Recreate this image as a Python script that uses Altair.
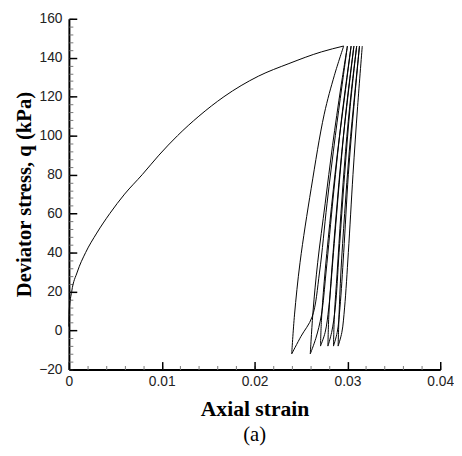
import altair as alt
import pandas as pd

# Monotonic loading curve (axial strain, deviator stress q in kPa)
loading_strain = [0.0, 0.00003, 0.0003, 0.0009, 0.0018, 0.0030, 0.0044, 0.0060, 0.0079,
                  0.0097, 0.0117, 0.0140, 0.0167, 0.0204, 0.0237, 0.0272, 0.0296]
loading_q = [2, 10, 20, 30, 40, 50, 60, 70, 80, 90, 100, 110, 120, 130.5, 137, 143, 146]

# Unloading branches (from peak down to minimum), one list per cycle
unload_strain = [
    [0.0296, 0.0286, 0.0275, 0.0261, 0.0249, 0.0243, 0.0240],
    [0.0300, 0.0293, 0.0284, 0.0276, 0.0268, 0.0263, 0.0260],
    [0.0304, 0.0297, 0.0289, 0.0281, 0.0275, 0.0272, 0.0271],
    [0.0307, 0.0301, 0.0294, 0.0288, 0.0283, 0.0280, 0.0279],
    [0.0310, 0.0304, 0.0298, 0.0293, 0.0289, 0.0286, 0.0285],
    [0.0313, 0.0308, 0.0302, 0.0297, 0.0293, 0.0291, 0.0290],
]
unload_q = [
    [146, 131, 111, 73, 35, 8, -12],
    [146, 125, 95, 65, 35, 10, -12],
    [146, 120, 90, 55, 25, 5, -8],
    [146, 122, 92, 60, 30, 8, -8],
    [146, 122, 92, 60, 30, 8, -8],
    [146, 122, 92, 60, 30, 8, -8],
]
# Reloading branches (from minimum back up to peak), one list per cycle
reload_strain = [
    [0.0240, 0.0250, 0.0262, 0.0270, 0.0278, 0.0287, 0.0294, 0.0300],
    [0.0260, 0.0266, 0.0272, 0.0277, 0.0285, 0.0294, 0.0304],
    [0.0271, 0.0276, 0.0280, 0.0285, 0.0292, 0.0299, 0.0307],
    [0.0279, 0.0283, 0.0287, 0.0291, 0.0297, 0.0303, 0.0310],
    [0.0285, 0.0289, 0.0292, 0.0296, 0.0301, 0.0307, 0.0313],
    [0.0290, 0.0294, 0.0297, 0.0301, 0.0306, 0.0311, 0.0316],
]
reload_q = [
    [-12, -3, 7, 30, 65, 100, 125, 146],
    [-12, -4, 8, 30, 70, 110, 146],
    [-8, -1, 12, 40, 80, 115, 146],
    [-8, -1, 12, 40, 80, 115, 146],
    [-8, -1, 12, 40, 80, 115, 146],
    [-8, -1, 12, 40, 80, 115, 146],
]

x_major = [0, 0.01, 0.02, 0.03, 0.04]
x_minor = [i * 0.002 for i in range(21)]
y_major = [-20, 0, 20, 40, 60, 80, 100, 120, 140, 160]
y_minor = [-20 + 4 * i for i in range(46)]

load_df = pd.DataFrame({"strain": loading_strain, "q": loading_q})

rows = []
branch = 0
for us, uq, rs, rq in zip(unload_strain, unload_q, reload_strain, reload_q):
    for k, (s, v) in enumerate(zip(us, uq)):
        rows.append({"strain": s, "q": v, "branch": branch, "k": k})
    branch += 1
    for k, (s, v) in enumerate(zip(rs, rq)):
        rows.append({"strain": s, "q": v, "branch": branch, "k": k})
    branch += 1
cyc_df = pd.DataFrame(rows)

xscale = alt.Scale(domain=[0, 0.04], nice=False, zero=False)
yscale = alt.Scale(domain=[-20, 160], nice=False, zero=False)

LABEL_FONT = "Liberation Sans"
TITLE_FONT = "Liberation Serif"

main = alt.Chart(load_df).mark_line(color="black", strokeWidth=1, interpolate="monotone").encode(
    x=alt.X("strain:Q", scale=xscale, axis=alt.Axis(
        values=x_major, format="~g", title="Axial strain", grid=False,
        domainColor="black", domainWidth=2, ticks=False, labelPadding=5,
        labelFont=LABEL_FONT, labelFontSize=14, labelColor="#222",
        titleFont=TITLE_FONT, titleFontSize=22, titleFontWeight="bold",
        titleColor="black", titlePadding=11, labelFlush=False)),
    y=alt.Y("q:Q", scale=yscale, axis=alt.Axis(
        values=y_major, title="Deviator stress, q (kPa)", grid=False,
        domainColor="black", domainWidth=2, ticks=False, labelPadding=7,
        labelFont=LABEL_FONT, labelFontSize=14, labelColor="#222",
        titleFont=TITLE_FONT, titleFontSize=21, titleFontWeight="bold",
        titleColor="black", titlePadding=4, labelFlush=False)),
)

cycles = alt.Chart(cyc_df).mark_line(color="black", strokeWidth=1, interpolate="catmull-rom").encode(
    x=alt.X("strain:Q", scale=xscale, axis=None),
    y=alt.Y("q:Q", scale=yscale, axis=None),
    detail="branch:N",
    order="k:Q",
)

def tick_layer(xvals, yvals, size, width, color):
    return alt.Chart(load_df).mark_point(opacity=0).encode(
        x=alt.X("strain:Q", scale=xscale, axis=alt.Axis(
            orient="bottom", values=xvals, labels=False, domain=False, grid=False,
            title=None, tickSize=size, tickWidth=width, tickColor=color, offset=-size)),
        y=alt.Y("q:Q", scale=yscale, axis=alt.Axis(
            orient="left", values=yvals, labels=False, domain=False, grid=False,
            title=None, tickSize=size, tickWidth=width, tickColor=color, offset=-size)),
    )

minor = tick_layer(x_minor, y_minor, 4, 1, "#777")
major = tick_layer(x_major, y_major, 8, 1.5, "black")

chart = alt.layer(main, cycles, minor, major).resolve_axis(x="independent", y="independent").properties(
    width=378, height=357,
    autosize=alt.AutoSizeParams(type="none"),
    padding={"left": 62, "top": 7, "right": 14, "bottom": 76},
    title=alt.TitleParams("(a)", orient="bottom", font=TITLE_FONT, fontSize=21,
                          fontWeight="normal", color="black", offset=5),
).configure_view(stroke=None)

chart.save("out.html", embed_options={"renderer": "svg", "actions": False})
